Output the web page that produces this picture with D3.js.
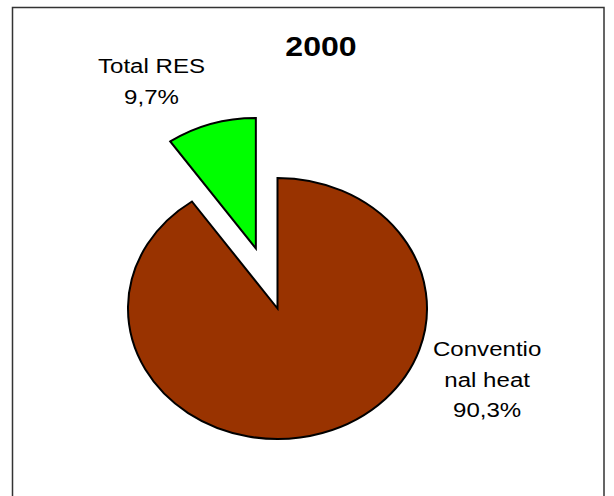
<!DOCTYPE html>
<html>
<head>
<meta charset="utf-8">
<script src="https://d3js.org/d3.v7.min.js"></script>
<style>
  body { margin: 0; background: #fff; }
  text { font-family: "Liberation Sans", Arial, sans-serif; fill: #000; }
</style>
</head>
<body>
<div id="my_dataviz"></div>
<script>
// data
var categories = ["Conventional heat", "Total RES"];
var shares = [90.3, 9.7];
var labelLines = [["Conventio", "nal heat", "90,3%"], ["Total RES", "9,7%"]];
var colors = ["#993300", "#00ff00"];
var title = "2000";

const width = 614, height = 496;
// chart is stretched horizontally in the original picture
const stretch = 1.1456;
const cx = 277.5, cy = 308.5, radius = 130.5, explode = 63;

var svg = d3.select("#my_dataviz")
  .append("svg")
    .attr("width", width)
    .attr("height", height);

// outer frame
svg.append("rect")
  .attr("x", 12.5)
  .attr("y", 7.5)
  .attr("width", 591.5)
  .attr("height", 520)
  .attr("fill", "none")
  .attr("stroke", "#333")
  .attr("stroke-width", 1.5);

var g = svg.append("g")
  .attr("transform", "translate(" + cx + "," + cy + ") scale(" + stretch + ",1)");

var pie = d3.pie().sort(null).value(function(d) { return d; });
var arcs = pie(shares);

var arc = d3.arc().innerRadius(0).outerRadius(radius);

g.selectAll(".slice")
  .data(arcs)
  .join("path")
    .attr("class", "slice")
    .attr("d", arc)
    .attr("fill", function(d, i) { return colors[i]; })
    .attr("stroke", "#000")
    .attr("stroke-width", 2)
    .attr("vector-effect", "non-scaling-stroke")
    .attr("stroke-linejoin", "miter")
    .attr("transform", function(d, i) {
      if (i == 0) return null;
      var mid = (d.startAngle + d.endAngle) / 2;
      return "translate(" + (Math.sin(mid) * explode) + "," + (-Math.cos(mid) * explode) + ")";
    });

// slice labels
var labelPos = [[183, 48], [-110, -235.5]];
var lineGap = 30.5;

g.selectAll(".lbl")
  .data(arcs)
  .join("text")
    .attr("class", "lbl")
    .attr("x", function(d, i) { return labelPos[i][0]; })
    .attr("y", function(d, i) { return labelPos[i][1]; })
    .style("text-anchor", "middle")
    .style("font-size", "21px")
    .each(function(d, i) {
      var t = d3.select(this);
      labelLines[i].forEach(function(line, k) {
        t.append("tspan")
          .attr("x", labelPos[i][0])
          .attr("dy", k == 0 ? 0 : lineGap)
          .text(line);
      });
    });

// title
g.append("text")
  .attr("x", 38)
  .attr("y", -253)
  .style("text-anchor", "middle")
  .style("font-size", "28px")
  .style("font-weight", "bold")
  .text(title);
</script>
</body>
</html>
